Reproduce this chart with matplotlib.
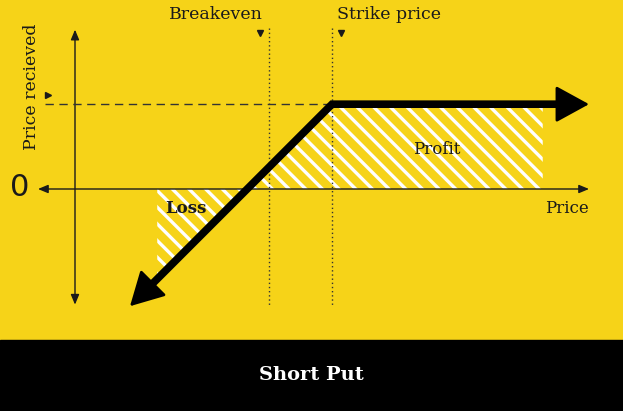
# Short put payoff diagram

# %%
import numpy as np
import matplotlib.pyplot as plt

# %% data (price units, payoff units)
strike = 50
premium = 16.5
breakeven_mark = 37.7          # where the dotted breakeven guide is drawn
payoff_x = [10.7, 50, 100]     # payoff line: left tip, strike corner, right tip
payoff_y = [-22.8, 16.5, 16.5]
profit_x = [33.5, 50, 91]      # hatched profit area
profit_y = [0, 16.5, 16.5]
loss_x = [16, 33.5]            # hatched loss area
loss_y = [-17.5, 0]
price_axis = (-7.2, 100)
value_axis = (-22.5, 31)

labels = {
    'breakeven': 'Breakeven',
    'strike': 'Strike price',
    'received': 'Price recieved',
    'profit': 'Profit',
    'loss': 'Loss',
    'price': 'Price',
    'title': 'Short Put',
}

# %% layout
W, H, dpi = 623, 411, 100
s = 5.14                       # px per unit
ox, oy = 75, 189               # pixel of origin
yellow = '#F6D318'
ink = '#1a1a1a'

plt.rcParams['hatch.linewidth'] = 2.4
plt.rcParams['font.family'] = ['DejaVu Serif']

fig = plt.figure(figsize=(W / dpi, H / dpi), dpi=dpi, facecolor=yellow)
ax = fig.add_axes([0, 0, 1, 1])
ax.set_facecolor(yellow)
ax.set_xlim(-ox / s, (W - ox) / s)
ax.set_ylim(-(H - oy) / s, oy / s)
ax.axis('off')

# black footer band
ax.axhspan(-(H - oy) / s, -(340 - oy) / s, color='black', zorder=0)

# %% hatched areas
ax.fill_between(profit_x, 0, profit_y, facecolor='none', edgecolor='white',
                hatch='\\\\', linewidth=0, zorder=1)
ax.fill_between(loss_x, loss_y, 0, facecolor='none', edgecolor='white',
                hatch='\\\\', linewidth=0, zorder=1)

# %% axes arrows
ax.annotate('', xy=(0, value_axis[1]), xytext=(0, value_axis[0]),
            arrowprops=dict(arrowstyle='<|-|>,head_length=0.6,head_width=0.25',
                            lw=1, color=ink, shrinkA=0, shrinkB=0), zorder=2)
ax.annotate('', xy=(price_axis[1], 0), xytext=(price_axis[0], 0),
            arrowprops=dict(arrowstyle='<|-|>,head_length=0.6,head_width=0.25',
                            lw=1, color=ink, shrinkA=0, shrinkB=0), zorder=2)

# guide lines
ax.plot([-5.8, strike], [premium, premium], color='#333333', lw=1,
        dashes=(6, 4), zorder=2)
for gx in [breakeven_mark, strike]:
    ax.plot([gx, gx], [value_axis[1] + 0.3, value_axis[0] - 0.5], color='#333333',
            lw=1, linestyle=(0, (1, 2)), zorder=2)

# small triangle pointers
ax.plot([breakeven_mark - 1.7, strike + 1.75], [30.4, 30.4], 'v', color=ink, ms=5)
ax.plot([-5.25], [18.3], '>', color=ink, ms=5)

# %% payoff line with arrowheads
# stop the thick line a little short of each tip so the heads keep sharp points
px = np.array(payoff_x, float)
py = np.array(payoff_y, float)
back = 4.0
d_left = np.array([px[1] - px[0], py[1] - py[0]])
d_left /= np.hypot(*d_left)
line_x = [px[0] + back * d_left[0], px[1], px[2] - back]
line_y = [py[0] + back * d_left[1], py[1], py[2]]
ax.plot(line_x, line_y, color='black', lw=5.5, solid_joinstyle='miter',
        solid_capstyle='butt', zorder=3)
head = dict(arrowstyle='-|>,head_length=2.1,head_width=1.15', lw=2,
            color='black', shrinkA=0, shrinkB=0)
ax.annotate('', xy=(px[2], py[2]), xytext=(px[2] - 12, py[2]),
            arrowprops=head, zorder=4)
ax.annotate('', xy=(px[0], py[0]), xytext=(px[0] + 10 * d_left[0], py[0] + 10 * d_left[1]),
            arrowprops=head, zorder=4)

# %% text
ax.text(breakeven_mark - 1.1, 33.9, labels['breakeven'], ha='right', va='center',
        fontsize=12.5, color=ink)
ax.text(strike + 1, 33.9, labels['strike'], ha='left', va='center',
        fontsize=12.5, color=ink)
ax.text(-8.4, 19.8, labels['received'], rotation=90, ha='center', va='center',
        fontsize=12.5, color=ink)
ax.text(-10.7, 0.2, '0', ha='center', va='center', fontsize=22, color=ink,
        family='DejaVu Sans')
ax.text(70.4, 7.6, labels['profit'], ha='center', va='center', fontsize=12,
        color=ink)
ax.text(21.6, -3.7, labels['loss'], ha='center', va='center', fontsize=12,
        color=ink, fontweight='bold')
ax.text(95.7, -3.7, labels['price'], ha='center', va='center', fontsize=12,
        color=ink)
ax.text(45.9, -36.2, labels['title'], ha='center', va='center', fontsize=14,
        color='white', fontweight='bold')

fig.savefig('out.png', dpi=dpi, facecolor=yellow)
